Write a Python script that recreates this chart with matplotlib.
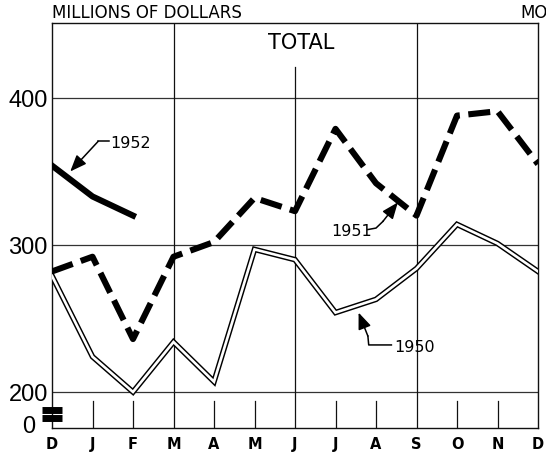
import numpy as np
import matplotlib
matplotlib.use("Agg")
import matplotlib.pyplot as plt
from matplotlib.transforms import ScaledTranslation, blended_transform_factory

# Monthly totals, millions of dollars (December through December)
months = ["D", "J", "F", "M", "A", "M", "J", "J", "A", "S", "O", "N", "D"]
v1950 = [279, 224, 200, 234, 207, 297, 290, 254, 263, 284, 314, 301, 282]
v1951 = [282, 292, 236, 292, 302, 332, 323, 379, 342, 320, 388, 391, 355]
v1952 = [354, 333, 320]

ytick_vals = [0, 200, 300, 400]
ytick_labels = ["0", "200", "300", "400"]

# Broken value axis: 0-200 is squeezed into a narrow strip
SQUEEZE = 0.1225


def fwd(y):
    y = np.asarray(y, dtype=float)
    return np.where(y >= 200, y, 200 - (200 - y) * SQUEEZE)


def inv(v):
    v = np.asarray(v, dtype=float)
    return np.where(v >= 200, v, 200 - (200 - v) / SQUEEZE)


W, H = 546, 460
fig = plt.figure(figsize=(W / 100, H / 100), dpi=100)
ax = fig.add_axes([52 / W, 31 / H, 486 / W, 405 / H])
ax.set_yscale("function", functions=(fwd, inv))
ax.set_xlim(0, 12)
ax.set_ylim(0, 451)

ink = "#111111"
for s in ax.spines.values():
    s.set_color(ink)
    s.set_linewidth(1.0)

# horizontal rules
for yv in [200, 300, 400]:
    ax.axhline(yv, color="#333333", lw=0.9, zorder=1)

# vertical rules at quarter months, short ticks elsewhere
x = np.arange(len(months))
for i in x[1:-1]:
    if i in (3, 9):
        ax.plot([i, i], [0, 451], color=ink, lw=0.9, zorder=1)
    elif i == 6:
        ax.plot([i, i], [0, 421], color=ink, lw=0.9, zorder=1)
    else:
        ax.plot([i, i], [0, 150], color=ink, lw=0.9, zorder=1)

# axis break marker
tb = blended_transform_factory(ax.transAxes, ax.transData)
for yb in (102, 57):
    ax.plot([-0.021, 0.02], [yb, yb], color="black", lw=5.0,
            solid_capstyle="butt", transform=tb, clip_on=False, zorder=5)

# series
ax.plot(x, v1950, color="black", lw=4.0, solid_joinstyle="miter", zorder=3)
ax.plot(x, v1950, color="white", lw=1.9, solid_joinstyle="miter", zorder=4)
ax.plot(x, v1951, color="black", lw=4.4, linestyle=(0, (3.6, 1.4)),
        dash_capstyle="butt", solid_joinstyle="miter", zorder=4)
ax.plot(x[:len(v1952)], v1952, color="black", lw=4.4, zorder=4)

# ticks and labels
ax.set_xticks(x)
ax.set_xticklabels(months, fontsize=10.5, fontweight="bold",
                   family="DejaVu Sans")
ax.tick_params(axis="x", length=0, pad=6)
ax.set_yticks(ytick_vals)
ax.set_yticklabels(ytick_labels, fontsize=17, family="Liberation Sans")
ax.tick_params(axis="y", length=0, pad=3)
ax.minorticks_off()
zero_lbl = ax.get_yticklabels()[0]
zero_lbl.set_transform(zero_lbl.get_transform()
                       + ScaledTranslation(-0.13, 0.04, fig.dpi_scale_trans))

# labelled arrows
lab = dict(fontsize=11.5, family="DejaVu Sans", color="black",
           va="center", ha="left")
arrow = dict(arrowstyle="-|>,head_length=1.0,head_width=0.4",
             color="black", lw=1.1, shrinkA=0, shrinkB=0)

ax.text(1.44, 370, "1952", **lab)
ax.plot([1.40, 1.14], [370.5, 370.5], color="black", lw=1.1)
ax.annotate("", xy=(0.45, 350), xytext=(1.14, 370.5), arrowprops=arrow)

ax.text(6.90, 310, "1951", **lab)
ax.plot([7.80, 8.0, 8.17], [310.5, 311.5, 316], color="black", lw=1.1)
ax.annotate("", xy=(8.54, 329), xytext=(8.17, 316), arrowprops=arrow)

ax.text(8.44, 231, "1950", **lab)
ax.plot([8.38, 7.82, 7.80], [232, 232, 238], color="black", lw=1.1)
ax.annotate("", xy=(7.57, 254), xytext=(7.80, 238), arrowprops=arrow)

# titles
ax.text(6.15, 438, "TOTAL", fontsize=15, family="DejaVu Sans",
        ha="center", va="center")
fig.text(52 / W, 1 - 13 / H, "MILLIONS OF DOLLARS", fontsize=12,
         family="DejaVu Sans", ha="left", va="center")
fig.text(520 / W, 1 - 13 / H, "MO", fontsize=12,
         family="DejaVu Sans", ha="left", va="center")

fig.savefig("out.png", dpi=100, facecolor="white")
